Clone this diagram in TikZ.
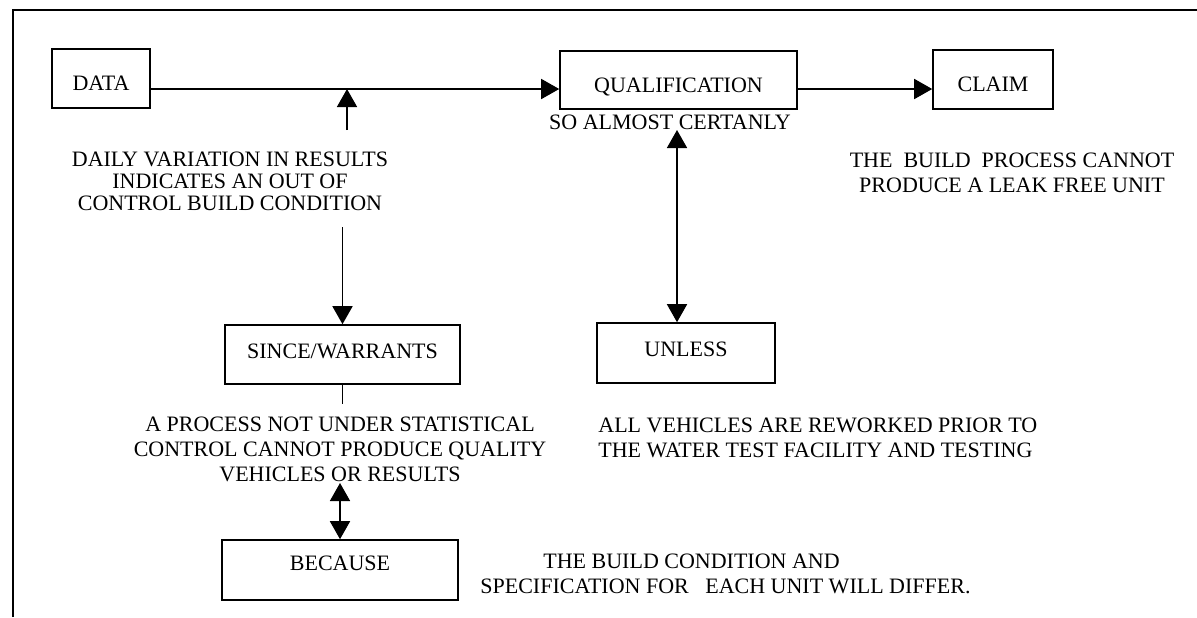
\documentclass[tikz,border=0pt]{standalone}
\usepackage{fontspec}
\setmainfont{Liberation Serif}
\usetikzlibrary{positioning,arrows.meta}

\begin{document}
\begin{tikzpicture}[x=0.5pt,y=-0.5pt,
		every node/.style={font=\fontsize{11}{12.5}\selectfont,inner sep=0pt},
		box/.style={draw,line width=0.8pt,align=center,text height=12.2pt,text depth=0pt},
		midbox/.style={box,text height=7.2pt,text depth=3.5pt},
		note/.style={align=center},
		arr/.style={line width=0.8pt,-{Triangle[length=9pt,width=10pt]}},
		dbl/.style={line width=0.8pt,{Triangle[length=9pt,width=10pt]}-{Triangle[length=9pt,width=10pt]}}]
	\useasboundingbox (0,0) rectangle (1197,617);
	% frame
	\draw[line width=1.1pt] (13,617) -- (13,10) -- (1197,10);
	% boxes
	\node[box,minimum width=49pt,minimum height=29.5pt] (data) at (101,78.5) {DATA};
	\node[box,minimum width=118.5pt,minimum height=29pt] (qual) at (678.5,80) {QUALIFICATION};
	\node[box,minimum width=60pt,minimum height=29.5pt] (claim) at (993,79.5) {CLAIM};
	\node[midbox,minimum width=117.5pt,minimum height=29.5pt] (since) at (342.5,354.5) {SINCE/WARRANTS};
	\node[midbox,minimum width=89pt,minimum height=30pt] (unless) at (686,353) {UNLESS};
	\node[midbox,text depth=7pt,minimum width=118pt,minimum height=30pt] (because) at (340,570) {BECAUSE};
	% texts
	\node[note] (soalmost) at (670,122) {SO ALMOST CERTANLY};
	\node[note,font=\fontsize{11}{11}\selectfont] (daily) at (230,181.5) {DAILY VARIATION IN RESULTS\\INDICATES AN OUT OF\\CONTROL BUILD CONDITION};
	\node[note] (leak) at (1012,173) {THE\ \ BUILD\ \ PROCESS CANNOT\\PRODUCE A LEAK FREE UNIT};
	\node[note] (process) at (340,449) {A PROCESS NOT UNDER STATISTICAL\\CONTROL CANNOT PRODUCE QUALITY\\VEHICLES OR RESULTS};
	\node[note,align=left,anchor=west] (rework) at (598,437.5) {ALL VEHICLES ARE REWORKED PRIOR TO\\THE WATER TEST FACILITY AND TESTING};
	\node[note,align=left,anchor=west] (differ) at (480,573.5) {\hspace*{31.5pt}THE BUILD CONDITION AND\\SPECIFICATION FOR\ \ \ EACH UNIT WILL DIFFER.};
	% connectors
	\coordinate (j1) at (347,89);
	\coordinate (up1) at (347,130);
	\coordinate (d1) at (342.5,227);
	\coordinate (s1) at (342.5,404);
	\coordinate (b1) at (340,483);
	\coordinate (q1) at (677,130);
	\draw[arr] (data.east |- j1) -- (qual.west |- j1);
	\draw[arr] (qual.east |- j1) -- (claim.west |- j1);
	\draw[arr] (up1) -- (j1);
	\draw[arr] (d1) -- (since.north);
	\draw[line width=0.8pt] (since.south) -- (s1);
	\draw[dbl] (b1) -- (because.north);
	\draw[dbl] (q1) -- (q1 |- unless.north);
\end{tikzpicture}
\end{document}
